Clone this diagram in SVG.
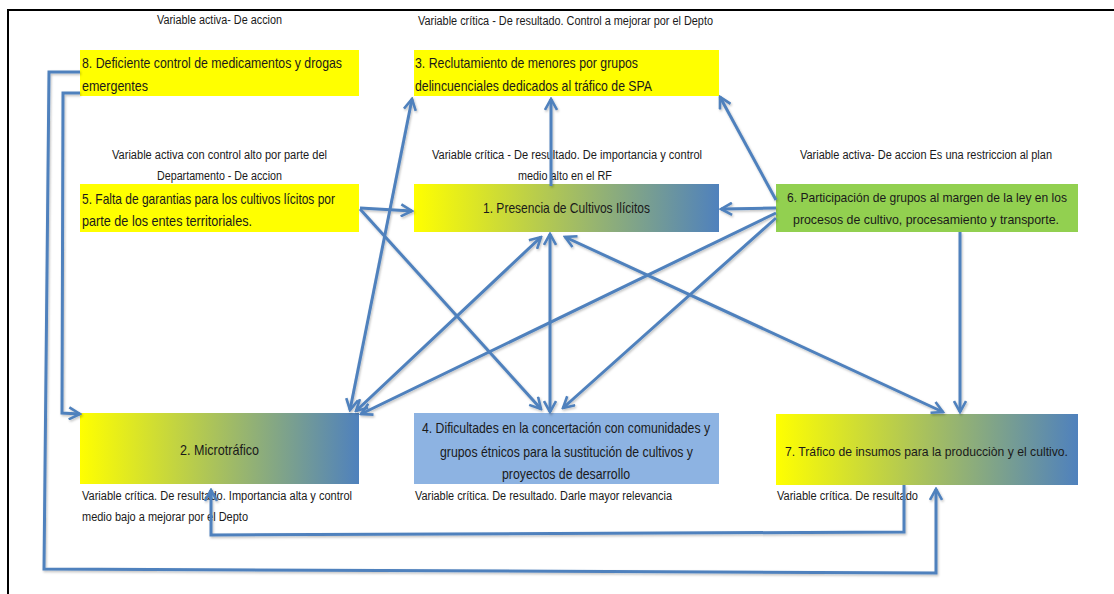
<svg xmlns="http://www.w3.org/2000/svg" width="1114" height="594" viewBox="0 0 1114 594">
<style>
.bt{font-family:"Liberation Sans",Arial,sans-serif;font-size:14.5px;fill:#1a1a1a}
.sm{font-size:13.5px}
.lb{font-family:"Liberation Sans",Arial,sans-serif;font-size:12px;fill:#1a1a1a}
.c{fill:none;stroke:#4F81BD;stroke-width:3;stroke-linejoin:miter}
</style>
<defs>
<linearGradient id="g" x1="0" y1="0" x2="1" y2="0">
<stop offset="0" stop-color="#FFFF00"/>
<stop offset="1" stop-color="#4F81BD"/>
</linearGradient>
<marker id="ah" viewBox="0 0 14 14" refX="12" refY="7" markerWidth="14" markerHeight="14" markerUnits="userSpaceOnUse" orient="auto-start-reverse">
<path d="M1,1 L12,7 L1,13" fill="none" stroke="#4F81BD" stroke-width="2.6"/>
</marker>
<filter id="sh" x="-5%" y="-5%" width="110%" height="110%">
<feDropShadow dx="1" dy="1.5" stdDeviation="1" flood-color="#000" flood-opacity="0.25"/>
</filter>
</defs>
<rect width="1114" height="594" fill="#fff"/>
<rect x="8" y="10" width="1120" height="620" fill="none" stroke="#000" stroke-width="2"/>

<g id="n8">
<rect x="80" y="50" width="279" height="46" fill="#FFFF00"/>
<text class="bt" x="82" y="68" textLength="260" lengthAdjust="spacingAndGlyphs">8. Deficiente control de medicamentos y drogas</text>
<text class="bt" x="82" y="91" textLength="66" lengthAdjust="spacingAndGlyphs">emergentes</text>
<text class="lb" x="157" y="24" textLength="125" lengthAdjust="spacingAndGlyphs">Variable activa- De accion</text>
</g>

<g id="n3">
<rect x="414" y="50" width="305" height="46" fill="#FFFF00"/>
<text class="bt" x="415" y="68" textLength="223" lengthAdjust="spacingAndGlyphs">3. Reclutamiento de menores por grupos</text>
<text class="bt" x="415" y="91" textLength="237" lengthAdjust="spacingAndGlyphs">delincuenciales dedicados al tráfico de SPA</text>
<text class="lb" x="418" y="25" textLength="295" lengthAdjust="spacingAndGlyphs">Variable crítica - De resultado. Control a mejorar por el Depto</text>
</g>

<g id="n5">
<rect x="80" y="184" width="279" height="48" fill="#FFFF00"/>
<text class="bt" x="82" y="204" textLength="253" lengthAdjust="spacingAndGlyphs">5. Falta de garantias para los cultivos lícitos por</text>
<text class="bt" x="82" y="226" textLength="170" lengthAdjust="spacingAndGlyphs">parte de los entes territoriales.</text>
<text class="lb" x="112" y="159" textLength="215" lengthAdjust="spacingAndGlyphs">Variable activa con control alto por parte del</text>
<text class="lb" x="157" y="180" textLength="125" lengthAdjust="spacingAndGlyphs">Departamento - De accion</text>
</g>

<g id="n1">
<rect x="414" y="184" width="305" height="48" fill="url(#g)"/>
<text class="bt" x="483" y="213" textLength="167" lengthAdjust="spacingAndGlyphs">1. Presencia de Cultivos Ilícitos</text>
<text class="lb" x="432" y="159" textLength="270" lengthAdjust="spacingAndGlyphs">Variable crítica -  De resultado. De importancia y control</text>
<text class="lb" x="518" y="180" textLength="94" lengthAdjust="spacingAndGlyphs">medio alto en el RF</text>
</g>

<g id="n6">
<rect x="776" y="184" width="302" height="48" fill="#92D050"/>
<text class="bt sm" x="787" y="202" textLength="280" lengthAdjust="spacingAndGlyphs">6. Participación de grupos al margen de la ley en los</text>
<text class="bt sm" x="793" y="224" textLength="266" lengthAdjust="spacingAndGlyphs">procesos de cultivo, procesamiento y transporte.</text>
<text class="lb" x="800" y="159" textLength="252" lengthAdjust="spacingAndGlyphs">Variable activa- De accion Es una restriccion al plan</text>
</g>

<g id="n2">
<rect x="80" y="413" width="279" height="71" fill="url(#g)"/>
<text class="bt" x="180" y="455" textLength="79" lengthAdjust="spacingAndGlyphs">2. Microtráfico</text>
<text class="lb" x="82" y="500" textLength="270" lengthAdjust="spacingAndGlyphs">Variable crítica. De resultado. Importancia alta y control</text>
<text class="lb" x="82" y="521" textLength="166" lengthAdjust="spacingAndGlyphs">medio bajo a mejorar por el Depto</text>
</g>

<g id="n4">
<rect x="414" y="413" width="305" height="71" fill="#8DB3E2"/>
<text class="bt" x="422" y="433" textLength="288" lengthAdjust="spacingAndGlyphs">4. Dificultades en la concertación con comunidades y</text>
<text class="bt" x="440" y="457" textLength="253" lengthAdjust="spacingAndGlyphs">grupos étnicos para la sustitución de cultivos y</text>
<text class="bt" x="502" y="479" textLength="128" lengthAdjust="spacingAndGlyphs">proyectos de desarrollo</text>
<text class="lb" x="415" y="500" textLength="257" lengthAdjust="spacingAndGlyphs">Variable crítica. De resultado. Darle mayor relevancia</text>
</g>

<g id="n7">
<rect x="776" y="414" width="302" height="71" fill="url(#g)"/>
<text class="bt sm" x="785" y="456" textLength="283" lengthAdjust="spacingAndGlyphs">7. Tráfico de insumos para la producciòn y el cultivo.</text>
<text class="lb" x="777" y="500" textLength="141" lengthAdjust="spacingAndGlyphs">Variable crítica. De resultado</text>
</g>

<g id="connectors" filter="url(#sh)">
<path class="c" d="M80,72 L49,72 L44,569 L936,573 L936,489" marker-end="url(#ah)"/>
<path class="c" d="M80,93 L63,93 L62,413 L80,414" marker-end="url(#ah)"/>
<path class="c" d="M904,485 L904,532 L211,535 L211,490" marker-end="url(#ah)"/>
<path class="c" d="M551,186 L551,99" marker-end="url(#ah)"/>
<path class="c" d="M550,234 L550,412" marker-start="url(#ah)" marker-end="url(#ah)"/>
<path class="c" d="M360,208 L412,211" marker-end="url(#ah)"/>
<path class="c" d="M360,209 L541,409" marker-end="url(#ah)"/>
<path class="c" d="M776,208 L721,209" marker-end="url(#ah)"/>
<path class="c" d="M776,200 L720,97" marker-end="url(#ah)"/>
<path class="c" d="M776,213 L361,414" marker-end="url(#ah)"/>
<path class="c" d="M776,218 L563,408" marker-end="url(#ah)"/>
<path class="c" d="M960,232 L960,412" marker-end="url(#ah)"/>
<path class="c" d="M565,237 L943,412" marker-start="url(#ah)" marker-end="url(#ah)"/>
<path class="c" d="M541,237 L356,411" marker-start="url(#ah)" marker-end="url(#ah)"/>
<path class="c" d="M412,99 L350,410" marker-start="url(#ah)" marker-end="url(#ah)"/>
</g>
</svg>
